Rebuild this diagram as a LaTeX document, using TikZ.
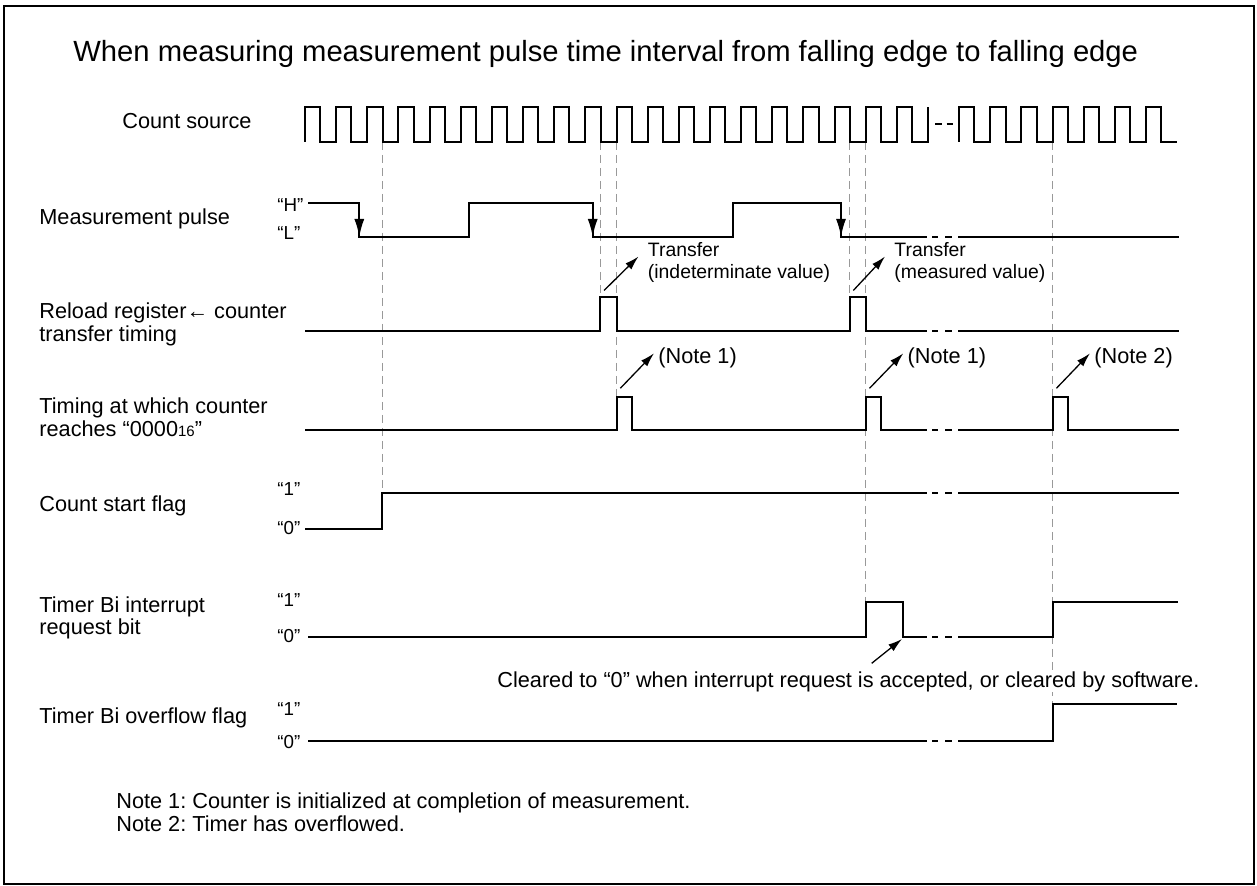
\documentclass[tikz,border=0pt]{standalone}
\usepackage{fontspec}
\setmainfont{Liberation Sans}
\usepackage{tikz}
\usetikzlibrary{arrows.meta,calc}
\frenchspacing

\newcommand{\brk}[1]{\draw[sig] (932,#1) -- (938,#1) (945,#1) -- (952,#1);}

\begin{document}
\begin{tikzpicture}[
    x=0.5pt, y=-0.5pt,
    sig/.style={line width=1pt},
    guide/.style={gray!80, line width=0.55pt, dash pattern=on 4pt off 2.5pt},
    lbl/.style={anchor=base west, inner sep=0pt, font=\fontsize{10.85}{11.4}\selectfont},
    lbl2/.style={anchor=north west, inner sep=0pt, align=left, font=\fontsize{10.85}{11.4}\selectfont},
    lvl/.style={anchor=base west, inner sep=0pt, font=\fontsize{9.4}{11}\selectfont},
    ann/.style={anchor=north west, inner sep=0pt, align=left, font=\fontsize{9.7}{10.8}\selectfont},
    fall/.style={line width=1pt, -{Latex[length=9pt,width=5pt]}},
    annarrow/.style={line width=0.65pt, -{Latex[length=7pt,width=4.2pt]}},
]
\useasboundingbox (0,0) rectangle (1257,886);
\draw[line width=1.1pt] (4,6) rectangle (1254,884);

\node[anchor=base west, inner sep=0pt, font=\fontsize{14.6}{17}\selectfont] (title) at (73,61.7)
    {When measuring measurement pulse time interval from falling edge to falling edge};

% signal names
\node[lbl] (src) at (122,128.3) {Count source};
\node[lbl] (meas) at (39,225) {Measurement pulse};
\node[lbl2] (rld) at (39,302.5) {Reload register← counter\\transfer timing};
\node[lbl2] (zero) at (39,397.5) {Timing at which counter\\reaches “0000{\fontsize{7.5}{8}\selectfont 16}”};
\node[lbl] (start) at (39,511.7) {Count start flag};
\node[lbl2] (irq) at (39,595.9) {Timer Bi interrupt\\request bit};
\node[lbl] (ovf) at (39,723.3) {Timer Bi overflow flag};

% levels
\node[lvl] (mH) at (277,211.7) {“H”};
\node[lvl] (mL) at (277,240) {“L”};
\node[lvl] (s1) at (277,496) {“1”};
\node[lvl] (s0) at (277,535) {“0”};
\node[lvl] (i1) at (277,606.7) {“1”};
\node[lvl] (i0) at (277,642.7) {“0”};
\node[lvl] (o1) at (277,715) {“1”};
\node[lvl] (o0) at (277,748.3) {“0”};

% guide lines
\draw[guide] (382.3,142) -- (382.3,493.3);
\draw[guide] (600.35,142) -- (600.35,296.7);
\draw[guide] (616.5,142) -- (616.5,396.7);
\draw[guide] (849.55,142) -- (849.55,296.7);
\draw[guide] (865.7,142) -- (865.7,602.3);
\draw[guide] (1052.6,142) -- (1052.6,704.3);

% count source
\draw[sig] (305,142) \foreach \k in {0,...,19}{ -- ++(0,-35) -- ++(15.2,0) -- ++(0,35) -- ++(15.95,0)} -- ++(0,-35);
\draw[sig] (935,124.5) -- (941.5,124.5) (946.5,124.5) -- (953,124.5);
\draw[sig] (959.15,142) \foreach \k in {21,...,27}{ -- ++(0,-35) -- ++(15.2,0) -- ++(0,35) -- ++(15.95,0)};

% measurement pulse
\draw[sig] (308,203.5) -- (359.3,203.5) -- (359.3,237) -- (469,237) -- (469,203.5) -- (592.7,203.5)
    -- (592.7,237) -- (733.3,237) -- (733.3,203.5) -- (841,203.5) -- (841,237) -- (927,237);
\brk{237}
\draw[sig] (958,237) -- (1179,237);
\draw[fall] (359.3,203.5) -- (359.3,237);
\draw[fall] (592.7,203.5) -- (592.7,237);
\draw[fall] (841,203.5) -- (841,237);

% reload register <- counter
\draw[sig] (305,331) -- (600.35,331) -- (600.35,296.7) -- (616.5,296.7) -- (616.5,331) -- (849.55,331)
    -- (849.55,296.7) -- (865.7,296.7) -- (865.7,331) -- (927,331);
\brk{331}
\draw[sig] (958,331) -- (1179,331);

% counter reaches 0000
\draw[sig] (305,430) -- (616.5,430) -- (616.5,396.7) -- (631.65,396.7) -- (631.65,430) -- (865.7,430)
    -- (865.7,396.7) -- (880.85,396.7) -- (880.85,430) -- (927,430);
\brk{430}
\draw[sig] (958,430) -- (1052.6,430) -- (1052.6,396.7) -- (1067.75,396.7) -- (1067.75,430) -- (1179,430);

% count start flag
\draw[sig] (305,529) -- (382.3,529) -- (382.3,493.3) -- (927,493.3);
\brk{493.3}
\draw[sig] (958,493.3) -- (1179,493.3);

% interrupt request bit
\draw[sig] (308,637) -- (865.7,637) -- (865.7,602.3) -- (903.3,602.3) -- (903.3,637) -- (927,637);
\brk{637}
\draw[sig] (958,637) -- (1052.6,637) -- (1052.6,602.3) -- (1178,602.3);

% overflow flag
\draw[sig] (308,741) -- (927,741);
\brk{741}
\draw[sig] (958,741) -- (1052.6,741) -- (1052.6,704.3) -- (1177,704.3);

% notes on the pulses
\node[ann] (tr1) at (647.5,242.5) {Transfer\\(indeterminate value)};
\node[ann] (tr2) at (894,242.5) {Transfer\\(measured value)};
\node[lbl] (n1) at (658,363.3) {(Note 1)};
\node[lbl] (n2) at (907.3,363.3) {(Note 1)};
\node[lbl] (n3) at (1094,363.3) {(Note 2)};
\node[lbl, fill=white] (clr) at (497,687)
    {Cleared to “0” when interrupt request is accepted, or cleared by software.};

\coordinate (rl1) at (604,290.5);
\coordinate (rl2) at (853.3,290.5);
\coordinate (z1) at (620.3,388.3);
\coordinate (z2) at (869.5,388.3);
\coordinate (z3) at (1056.4,388.3);
\coordinate (ir) at (902,639);
\coordinate (irt) at (871.7,663.3);

\draw[annarrow] (rl1) -- ($(tr1.north west)+(-9,14)$);
\draw[annarrow] (rl2) -- ($(tr2.north west)+(-9,14)$);
\draw[annarrow] (z1) -- ($(n1.base west)+(-4,-10)$);
\draw[annarrow] (z2) -- ($(n2.base west)+(-4,-10)$);
\draw[annarrow] (z3) -- ($(n3.base west)+(-4,-10)$);
\draw[annarrow] (irt) -- (ir);

\node[lbl2] (notes) at (116,792.5)
    {Note 1: Counter is initialized at completion of measurement.\\Note 2: Timer has overflowed.};
\end{tikzpicture}
\end{document}
